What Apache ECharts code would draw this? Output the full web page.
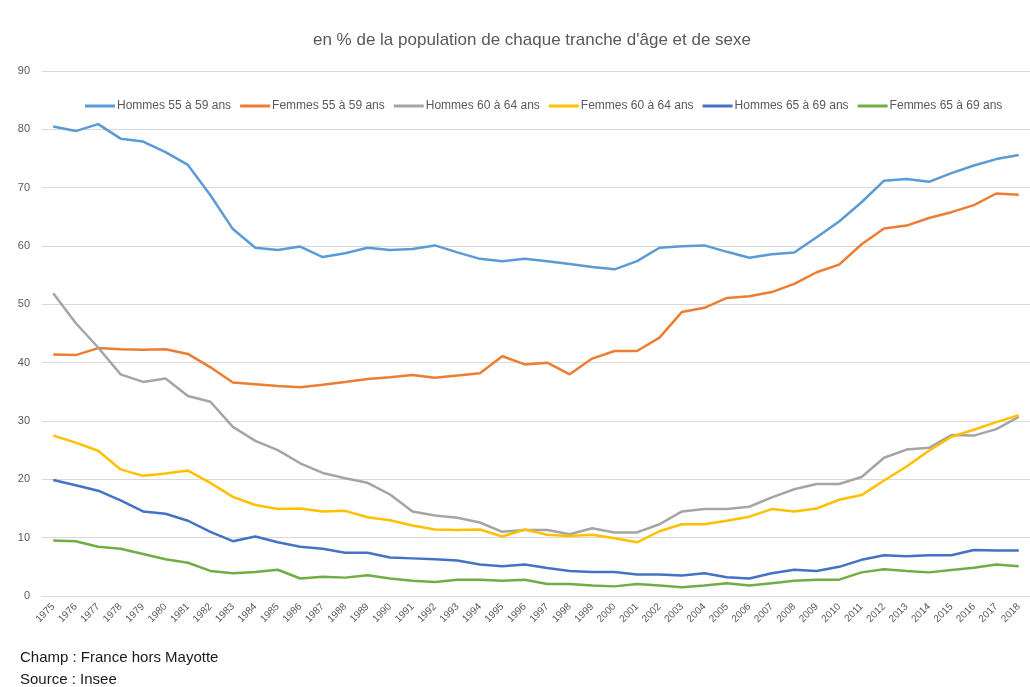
<!DOCTYPE html>
<html>
<head>
<meta charset="utf-8">
<script src="https://cdn.jsdelivr.net/npm/echarts@6/dist/echarts.min.js"></script>
<style>
html, body { margin: 0; padding: 0; background: #fff; }
#main { width: 1030px; height: 687px; }
</style>
</head>
<body>
<div id="main"></div>
<script>
var annees = [];
for (var a = 1975; a <= 2018; a++) annees.push(String(a));

var hommes5559 = [80.5,79.7,80.9,78.4,77.9,76.1,73.9,68.7,62.9,59.7,59.3,59.9,58.1,58.75,59.7,59.3,59.5,60.1,58.9,57.8,57.4,57.8,57.4,56.9,56.4,56.0,57.4,59.7,59.95,60.1,59.0,58.0,58.6,58.9,61.5,64.2,67.5,71.2,71.5,71.0,72.5,73.8,74.9,75.6];
var femmes5559 = [41.4,41.3,42.5,42.3,42.2,42.3,41.5,39.2,36.6,36.3,36.0,35.8,36.2,36.7,37.2,37.5,37.9,37.4,37.8,38.2,41.1,39.7,40.0,38.0,40.7,42.0,42.0,44.3,48.7,49.4,51.1,51.4,52.1,53.5,55.5,56.8,60.3,63.0,63.5,64.8,65.8,67.0,69.0,68.8];
var hommes6064 = [51.9,46.8,42.6,38.0,36.7,37.3,34.3,33.3,29.0,26.6,25.0,22.75,21.1,20.2,19.4,17.4,14.5,13.8,13.4,12.6,11.0,11.3,11.3,10.6,11.6,10.9,10.9,12.3,14.5,14.9,14.9,15.3,16.9,18.3,19.2,19.2,20.4,23.7,25.1,25.4,27.6,27.5,28.6,30.7];
var femmes6064 = [27.5,26.3,24.9,21.7,20.6,21.0,21.5,19.4,17.0,15.6,14.9,15.0,14.5,14.6,13.5,13.0,12.1,11.4,11.3,11.4,10.2,11.4,10.5,10.3,10.5,9.9,9.2,11.1,12.3,12.3,12.9,13.6,14.9,14.5,15.0,16.5,17.3,19.8,22.2,24.9,27.3,28.5,29.8,31.0];
var hommes6569 = [19.9,19.0,18.05,16.4,14.5,14.1,12.9,11.0,9.4,10.2,9.2,8.45,8.1,7.4,7.4,6.6,6.45,6.3,6.1,5.4,5.1,5.4,4.8,4.3,4.1,4.1,3.7,3.7,3.5,3.9,3.2,3.0,3.9,4.5,4.3,5.0,6.2,7.0,6.8,7.0,7.0,7.9,7.8,7.8];
var femmes6569 = [9.5,9.4,8.45,8.1,7.2,6.3,5.7,4.3,3.9,4.1,4.5,3.0,3.3,3.15,3.55,3.0,2.6,2.4,2.8,2.8,2.6,2.8,2.05,2.05,1.8,1.65,2.05,1.8,1.5,1.8,2.2,1.8,2.2,2.6,2.8,2.8,4.05,4.6,4.3,4.05,4.45,4.85,5.4,5.1];

var noms = ['Hommes 55 à 59 ans','Femmes 55 à 59 ans','Hommes 60 à 64 ans','Femmes 60 à 64 ans','Hommes 65 à 69 ans','Femmes 65 à 69 ans'];
var couleurs = ['#5B9BD5','#ED7D31','#A5A5A5','#FFC000','#4472C4','#70AD47'];
var valeurs = [hommes5559, femmes5559, hommes6064, femmes6064, hommes6569, femmes6569];

var police = 'Liberation Sans';
var myChart = echarts.init(document.getElementById('main'));

var series = [];
for (var i = 0; i < noms.length; i++) {
    series.push({
        name: noms[i],
        type: 'line',
        data: valeurs[i],
        showSymbol: false,
        symbol: 'none',
        lineStyle: { width: 2.5, color: couleurs[i] },
        itemStyle: { color: couleurs[i] }
    });
}

myChart.setOption({
    animation: false,
    color: couleurs,
    title: [{
        text: "en % de la population de chaque tranche d'âge et de sexe",
        left: 527,
        top: 27,
        textAlign: 'center',
        textStyle: { fontFamily: police, fontSize: 17, fontWeight: 'normal', color: '#595959' }
    }, {
        text: 'Champ : France hors Mayotte',
        left: 15,
        top: 645,
        textStyle: { fontFamily: police, fontSize: 15, fontWeight: 'normal', color: '#1a1a1a' }
    }, {
        text: 'Source : Insee',
        left: 15,
        top: 667,
        textStyle: { fontFamily: police, fontSize: 15, fontWeight: 'normal', color: '#1a1a1a' }
    }],
    legend: {
        data: noms,
        top: 95,
        left: 80,
        icon: 'rect',
        itemWidth: 30,
        itemHeight: 3,
        itemGap: 9,
        textStyle: { fontFamily: police, fontSize: 12, color: '#595959', padding: [0, 0, 0, -3] }
    },
    grid: { left: 42, right: 0, top: 71, bottom: 91, containLabel: false },
    xAxis: {
        type: 'category',
        data: annees,
        boundaryGap: true,
        axisLine: { show: true, lineStyle: { color: '#d9d9d9' } },
        axisTick: { show: false },
        axisLabel: { interval: 0, rotate: 45, fontFamily: police, fontSize: 10, color: '#595959', margin: 9 }
    },
    yAxis: {
        type: 'value',
        min: 0,
        max: 90,
        interval: 10,
        axisLine: { show: false },
        axisTick: { show: false },
        splitLine: { lineStyle: { color: '#d9d9d9', width: 1 } },
        axisLabel: { fontFamily: police, fontSize: 11, color: '#595959', margin: 12 }
    },
    series: series
});
</script>
</body>
</html>
